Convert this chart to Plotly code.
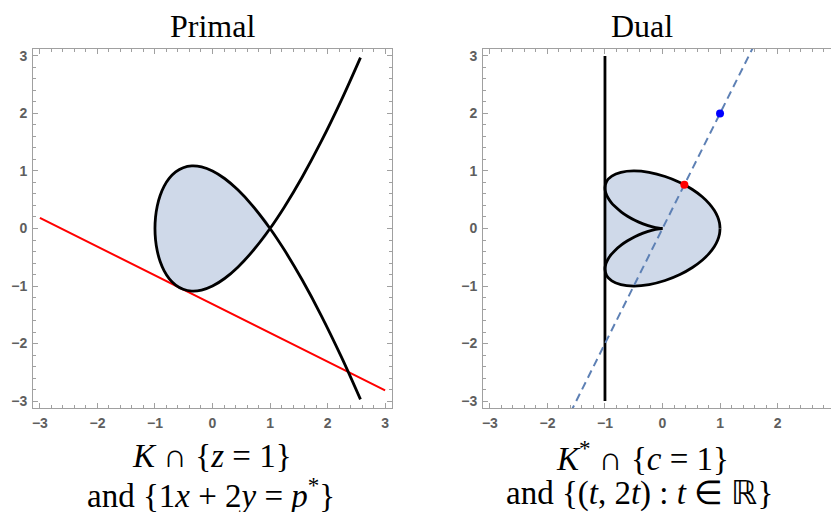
import plotly.graph_objects as go

# ---------------- data ----------------
# Primal curve K ∩ {z=1} (nodal cubic)
primal_x = [2.572, 2.24, 1.89, 1.56, 1.25, 1.0, 0.69, 0.44, 0.21, 0.0, -0.19, -0.36, -0.51,
            -0.64, -0.75, -0.84, -0.91, -0.96, -0.99, -1.0, -0.99, -0.96, -0.91, -0.84, -0.75,
            -0.64, -0.51, -0.36, -0.19, 0.0, 0.21, 0.44, 0.69, 1.0, 1.25, 1.56, 1.89, 2.24, 2.572]
primal_y = [-2.971, -2.232, -1.513, -0.896, -0.375, 0.0, 0.403, 0.672, 0.869, 1.0, 1.071, 1.088,
            1.057, 0.984, 0.875, 0.736, 0.573, 0.392, 0.199, 0.0, -0.199, -0.392, -0.573, -0.736,
            -0.875, -0.984, -1.057, -1.088, -1.071, -1.0, -0.869, -0.672, -0.403, 0.0, 0.375,
            0.896, 1.513, 2.232, 2.971]
loop_start, loop_end = 5, 34  # the closed loop part of the primal curve

# Red line {1x + 2y = p*}
red_line_x = [-3.0, 3.0]
red_line_y = [0.185, -2.815]

# Dual curve K* ∩ {c=1}: upper and lower halves (cusp at origin -> rightmost point)
dual_upper_x = [0.0, -0.0616, -0.121, -0.190, -0.2485, -0.338, -0.481, -0.608, -0.714, -0.834,
                -0.894, -0.948, -0.987, -1.0, -0.970, -0.881, -0.723, -0.5, -0.233, 0.045, 0.303,
                0.520, 0.690, 0.815, 0.902, 0.958, 0.990, 1.0]
dual_upper_y = [0.0, 0.0059, 0.0166, 0.033, 0.050, 0.081, 0.144, 0.214, 0.286, 0.389, 0.456,
                0.534, 0.623, 0.707, 0.821, 0.911, 0.976, 1.0, 0.975, 0.904, 0.800, 0.678, 0.552,
                0.429, 0.313, 0.204, 0.1005, 0.0]
dual_lower_x = dual_upper_x
dual_lower_y = [0.0, -0.0059, -0.0166, -0.033, -0.050, -0.081, -0.144, -0.214, -0.286, -0.389,
                -0.456, -0.534, -0.623, -0.707, -0.821, -0.911, -0.976, -1.0, -0.975, -0.904,
                -0.800, -0.678, -0.552, -0.429, -0.313, -0.204, -0.1005, 0.0]
outer_start = 13  # index where the dual curve touches the line x = -1

# Vertical line (dual of the node)
vline_x = [-1.0, -1.0]
vline_y = [-3.0, 3.0]

# Dashed line {(t, 2t)}
dash_x = [-1.6, 1.6]
dash_y = [-3.2, 3.2]

# Points
blue_pt = (1.0, 2.0)
red_pt = (0.380, 0.761)

tick_vals = [-3, -2, -1, 0, 1, 2, 3]
tick_text = ["−3", "−2", "−1", "0", "1", "2", "3"]

# ---------------- figure ----------------
BLACK = "#000000"
FILL = "rgb(207,217,233)"
STEEL = "rgb(94,129,181)"
W, H = 839, 512
OFF = 8  # page body margin: figure origin sits 8px right/down of the window corner


def px_x(p):
    return (p - OFF) / W


def px_y(p):
    return 1 - (p - OFF) / H


fig = go.Figure()

# Primal fill + curve
fig.add_trace(go.Scatter(
    x=primal_x[loop_start:loop_end], y=primal_y[loop_start:loop_end],
    mode="lines", fill="toself", fillcolor=FILL, line=dict(width=0, shape="spline"),
    xaxis="x", yaxis="y", hoverinfo="skip", showlegend=False))
fig.add_trace(go.Scatter(
    x=red_line_x, y=red_line_y, mode="lines", line=dict(color="#ff0000", width=2),
    xaxis="x", yaxis="y", showlegend=False))
fig.add_trace(go.Scatter(
    x=primal_x, y=primal_y, mode="lines", line=dict(color=BLACK, width=2.8, shape="spline"),
    xaxis="x", yaxis="y", showlegend=False))

# Dual fill
fill_x = dual_upper_x[outer_start:] + dual_lower_x[outer_start:][::-1][1:]
fill_y = dual_upper_y[outer_start:] + dual_lower_y[outer_start:][::-1][1:]
fig.add_trace(go.Scatter(
    x=fill_x, y=fill_y, mode="lines", fill="toself", fillcolor=FILL,
    line=dict(width=0, shape="spline"), xaxis="x2", yaxis="y2", hoverinfo="skip",
    showlegend=False))
fig.add_trace(go.Scatter(
    x=vline_x, y=vline_y, mode="lines", line=dict(color=BLACK, width=2.8),
    xaxis="x2", yaxis="y2", showlegend=False))
for xs, ys in ((dual_upper_x, dual_upper_y), (dual_lower_x, dual_lower_y)):
    fig.add_trace(go.Scatter(
        x=xs, y=ys, mode="lines", line=dict(color=BLACK, width=2.8, shape="spline"),
        xaxis="x2", yaxis="y2", showlegend=False))
fig.add_trace(go.Scatter(
    x=dash_x, y=dash_y, mode="lines", line=dict(color=STEEL, width=2, dash="8px,5px"),
    xaxis="x2", yaxis="y2", showlegend=False))
fig.add_trace(go.Scatter(
    x=[blue_pt[0]], y=[blue_pt[1]], mode="markers", marker=dict(color="#0000ff", size=8),
    xaxis="x2", yaxis="y2", showlegend=False))
fig.add_trace(go.Scatter(
    x=[red_pt[0]], y=[red_pt[1]], mode="markers", marker=dict(color="#ff0000", size=8),
    xaxis="x2", yaxis="y2", showlegend=False))

FRAME = "#a0a0a0"
TICK_FAMILY = "Liberation Sans"
TICK_SIZE = 14
TICK_COLOR = "#5e5e5e"


def axis(domain, rng, anchor):
    return dict(
        domain=domain, range=rng, anchor=anchor, showgrid=False, zeroline=False,
        showline=True, linecolor=FRAME, linewidth=1, mirror="allticks",
        ticks="inside", ticklen=5, tickwidth=1, tickcolor=FRAME,
        tickmode="array", tickvals=tick_vals, ticktext=tick_text,
        tickfont_family=TICK_FAMILY, tickfont_size=TICK_SIZE, tickfont_color=TICK_COLOR,
        tickfont_weight=700,
        ticklabelstandoff=2,
        minor=dict(ticks="inside", ticklen=3, tickwidth=1, tickcolor=FRAME, dtick=0.2, tick0=0),
        automargin=False, fixedrange=True)


ydom = [px_y(408), px_y(49)]
fig.update_layout(
    width=W, height=H, margin=dict(l=0, r=0, t=0, b=0),
    paper_bgcolor="white", plot_bgcolor="white",
    font=dict(family=TICK_FAMILY, size=TICK_SIZE, color=TICK_COLOR),
)
fig.update_layout(
    xaxis=axis([px_x(33), px_x(392)], [-3.12, 3.12], "y"),
    yaxis=axis(ydom, [-3.12, 3.12], "x"),
    xaxis2=axis([px_x(483), px_x(842)], [-3.12, 3.12], "y2"),
    yaxis2=axis(ydom, [-3.12, 3.12], "x2"),
)

SERIF = "Liberation Serif"
annots = [
    dict(text="Primal", x=212, y=26, size=32),
    dict(text="Dual", x=642, y=26, size=32),
    dict(text="<i>K</i> ∩ {<i>z</i> = 1}", x=211, y=456, size=33),
    dict(text="and {1<i>x</i> + 2<i>y</i> = <i>p</i><sup>*</sup>}", x=211, y=493, size=33),
    dict(text="<i>K</i><sup>*</sup> ∩ {<i>c</i> = 1}", x=642, y=456, size=33),
    dict(text="and {(<i>t</i>, 2<i>t</i>) : <i>t</i> ∈ ℝ}", x=639, y=493, size=33),
]
for a in annots:
    fig.add_annotation(text=a["text"], x=px_x(a["x"]), y=px_y(a["y"]), xref="paper",
                       yref="paper", xanchor="center", yanchor="middle", showarrow=False,
                       font=dict(family=SERIF, size=a["size"], color="#000000"))

fig.write_html("out.html")
